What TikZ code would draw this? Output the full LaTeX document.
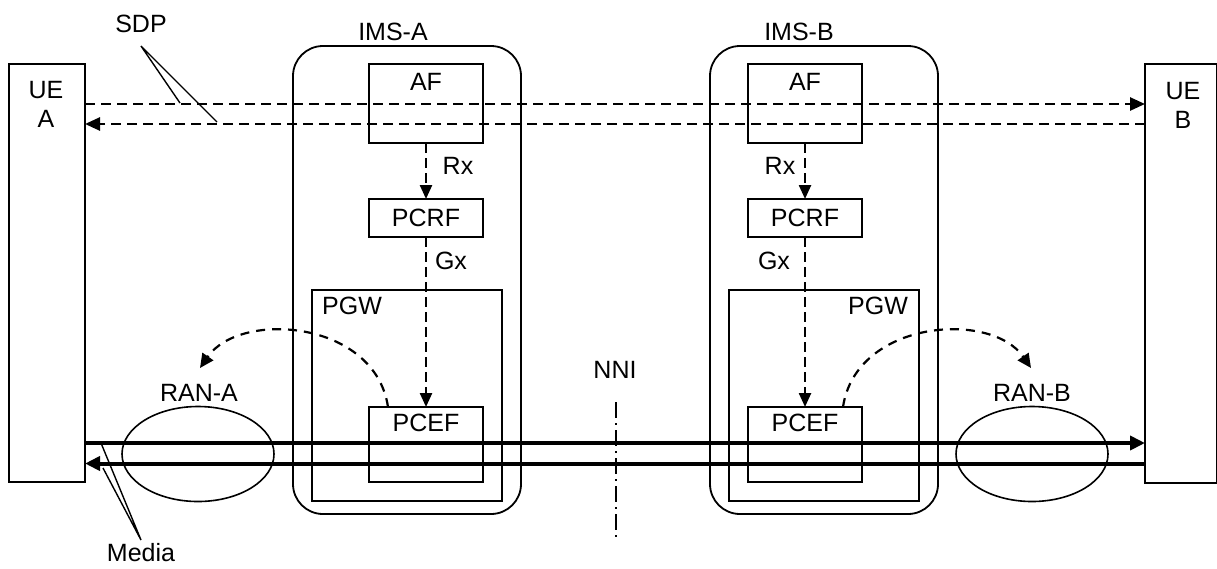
\documentclass[tikz,border=0pt]{standalone}
\usepackage{fontspec}
\setmainfont{Liberation Sans}
\usetikzlibrary{arrows.meta,shapes.geometric,calc}
\begin{document}
\begin{tikzpicture}[x=1pt,y=-1pt,
  every node/.style={font=\fontsize{25}{30}\selectfont, inner sep=0pt, outer sep=0pt},
  box/.style={draw, line width=1.8pt, rectangle},
  imsbox/.style={draw, line width=1.8pt, rectangle, rounded corners=30pt},
  ran/.style={draw, ellipse, line width=1.6pt},
  sdpline/.style={line width=2.6pt, dash pattern=on 10pt off 6pt, -{Triangle[length=15pt,width=13pt]}},
  ctl/.style={line width=2.4pt, dash pattern=on 10pt off 5pt, -{Triangle[length=14pt,width=12pt]}},
  curvearrow/.style={line width=2.2pt, dash pattern=on 9pt off 7pt, -{Triangle[length=14pt,width=13pt]}},
  medialine/.style={line width=4pt, -{Triangle[length=15pt,width=14pt]}},
  leader/.style={line width=1.4pt},
  nniline/.style={line width=1.5pt, dash pattern=on 16pt off 5pt on 2pt off 5pt}
]
\useasboundingbox (0,0) rectangle (1217,568);

% UEs
\node[box, minimum width=76pt, minimum height=418pt] (ueA) at (47,273) {};
\node[box, minimum width=72pt, minimum height=419pt] (ueB) at (1181,273.5) {};
\node (ueAt1) at (46,90) {UE};
\node (ueAt2) at (46,119) {A};
\node (ueBt1) at (1183,91) {UE};
\node (ueBt2) at (1183,120) {B};

% IMS domains
\node[imsbox, minimum width=228pt, minimum height=468pt] (imsA) at (407,280) {};
\node[imsbox, minimum width=228pt, minimum height=468pt] (imsB) at (824,280) {};
\node (imsAt) at (393,32) {IMS-A};
\node (imsBt) at (799,32) {IMS-B};

% IMS-A internals
\node[box, minimum width=114pt, minimum height=79pt] (afA) at (426,103.5) {};
\node (afAt) at (426,82) {AF};
\node[box, minimum width=114pt, minimum height=38pt] (pcrfA) at (426,218) {};
\node (pcrfAt) at (426,218) {PCRF};
\node[box, minimum width=190pt, minimum height=211pt] (pgwA) at (407,395.5) {};
\node (pgwAt) at (352,306) {PGW};
\node[box, minimum width=114pt, minimum height=75pt] (pcefA) at (426,444.5) {};
\node (pcefAt) at (426,423) {PCEF};
\node (rxA) at (458,166) {Rx};
\node (gxA) at (451,261) {Gx};

% IMS-B internals
\node[box, minimum width=114pt, minimum height=79pt] (afB) at (805,103.5) {};
\node (afBt) at (805,82) {AF};
\node[box, minimum width=114pt, minimum height=38pt] (pcrfB) at (805,218) {};
\node (pcrfBt) at (805,218) {PCRF};
\node[box, minimum width=190pt, minimum height=211pt] (pgwB) at (824,395.5) {};
\node (pgwBt) at (878,306) {PGW};
\node[box, minimum width=114pt, minimum height=75pt] (pcefB) at (805,444.5) {};
\node (pcefBt) at (805,423) {PCEF};
\node (rxB) at (780,166) {Rx};
\node (gxB) at (774,261) {Gx};

% RANs
\node[ran, minimum width=152pt, minimum height=95pt] (ranA) at (198,454) {};
\node (ranAt) at (199,393) {RAN-A};
\node[ran, minimum width=152pt, minimum height=95pt] (ranB) at (1032,454) {};
\node (ranBt) at (1032,393) {RAN-B};

% NNI
\node (nniT) at (615,370) {NNI};
\coordinate (nniTop) at (616,402);
\coordinate (nniBot) at (616,537);
\draw[nniline] (nniTop) -- (nniBot);

% SDP signalling
\coordinate (sdpT) at (0,104);
\coordinate (sdpB) at (0,124);
\draw[sdpline] (ueA.east |- sdpT) -- (ueB.west |- sdpT);
\draw[sdpline] (ueB.west |- sdpB) -- (ueA.east |- sdpB);
\node (sdpLbl) at (141,24) {SDP};
\coordinate (sdpApex) at (141,46);
\coordinate (sdpE1) at (180,103);
\coordinate (sdpE2) at (217,122);
\draw[leader] (sdpE1) -- (sdpApex) -- (sdpE2);

% Rx / Gx
\draw[ctl] (afA.south) -- (pcrfA.north);
\draw[ctl] (pcrfA.south) -- (pcefA.north);
\draw[ctl] (afB.south) -- (pcrfB.north);
\draw[ctl] (pcrfB.south) -- (pcefB.north);

% PCEF -> RAN curved
\coordinate (cAstart) at ($(pcefA.north west)+(19,0)$);
\coordinate (cAend) at (200,368);
\draw[curvearrow] (cAstart) .. controls (375,320) and (240,310) .. (cAend);
\coordinate (cBstart) at ($(pcefB.north east)+(-19,0)$);
\coordinate (cBend) at (1031,368);
\draw[curvearrow] (cBstart) .. controls (856,320) and (991,310) .. (cBend);

% Media
\coordinate (mT) at (0,443);
\coordinate (mB) at (0,463.5);
\draw[medialine] (ueA.east |- mT) -- (ueB.west |- mT);
\draw[medialine] (ueB.west |- mB) -- (ueA.east |- mB);
\node (mediaLbl) at (141,553) {Media};
\coordinate (mApex) at (141,540);
\coordinate (mE1) at (101,443);
\coordinate (mE2) at (103,468);
\draw[leader] (mE1) -- (mApex) -- (mE2);
\end{tikzpicture}
\end{document}
